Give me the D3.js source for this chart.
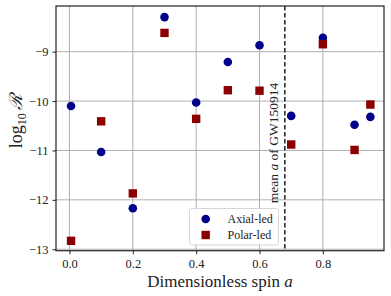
<!DOCTYPE html>
<html>
<head>
<meta charset="utf-8">
<script src="https://cdn.jsdelivr.net/npm/d3@7"></script>
<style>
  html, body { margin: 0; padding: 0; background: #fff; }
  svg { display: block; }
  text { font-family: "Liberation Serif", "DejaVu Serif", serif; }
</style>
</head>
<body>
<svg id="chart" width="391" height="296"></svg>
<script>
const spins = [0.005, 0.1, 0.2, 0.3, 0.4, 0.5, 0.6, 0.7, 0.8, 0.9, 0.95];
const axialLed = [-10.10, -11.03, -12.17, -8.30, -10.03, -9.21, -8.87, -10.30, -8.72, -10.48, -10.32];
const polarLed = [-12.83, -10.41, -11.87, -8.62, -10.36, -9.78, -9.79, -10.88, -8.85, -10.99, -10.07];
const xTicks = [0.0, 0.2, 0.4, 0.6, 0.8];
const yTicks = [-13, -12, -11, -10, -9];
const meanSpin = 0.68;
const seriesNames = ["Axial-led", "Polar-led"];

const svg = d3.select("#chart");
const pL = 56, pR = 384, pT = 6, pB = 250.7;

const x = d3.scaleLinear().domain([-0.0425, 0.993]).range([pL, pR]);
const y = d3.scaleLinear().domain([-13.03, -8.075]).range([pB, pT]);

// grid
const grid = svg.append("g");
grid.selectAll(".gx").data(xTicks).enter().append("line")
  .attr("x1", d => x(d)).attr("x2", d => x(d)).attr("y1", pT).attr("y2", pB)
  .attr("stroke", "#b0b0b0").attr("stroke-width", 1);
grid.selectAll(".gy").data(yTicks).enter().append("line")
  .attr("y1", d => y(d)).attr("y2", d => y(d)).attr("x1", pL).attr("x2", pR)
  .attr("stroke", "#b0b0b0").attr("stroke-width", 1);

// axes
const xAxis = d3.axisBottom(x).tickValues(xTicks).tickFormat(d3.format(".1f")).tickSizeInner(3.5).tickSizeOuter(0).tickPadding(5);
const yAxis = d3.axisLeft(y).tickValues(yTicks).tickFormat(d => "\u2212" + Math.abs(d)).tickSizeInner(3.5).tickSizeOuter(0).tickPadding(4);

const gx = svg.append("g").attr("transform", `translate(0,${pB})`).call(xAxis);
const gy = svg.append("g").attr("transform", `translate(${pL},0)`).call(yAxis);
[gx, gy].forEach(g => {
  g.select(".domain").remove();
  g.selectAll(".tick line").attr("stroke", "#222").attr("stroke-width", 1);
  g.selectAll(".tick text").attr("fill", "#222").style("font-size", "12.5px").style("font-family", "'Liberation Serif', serif");
});

// dashed line
svg.append("line")
  .attr("x1", x(meanSpin)).attr("x2", x(meanSpin)).attr("y1", pT).attr("y2", pB)
  .attr("stroke", "#111").attr("stroke-width", 1.4).attr("stroke-dasharray", "4.5,2.5");

const vt = svg.append("text")
  .attr("transform", `translate(${x(meanSpin) - 6.5},143) rotate(-90)`)
  .attr("text-anchor", "middle").attr("fill", "#222").style("font-size", "13.5px");
vt.append("tspan").text("mean ");
vt.append("tspan").attr("font-style", "italic").text("a");
vt.append("tspan").text(" of GW150914");

// points
const pts = svg.append("g");
pts.selectAll(".ax").data(spins).enter().append("circle")
  .attr("cx", (d) => x(d)).attr("cy", (d, i) => y(axialLed[i])).attr("r", 4.3)
  .attr("fill", "#00008b");
pts.selectAll(".po").data(spins).enter().append("rect")
  .attr("x", d => x(d) - 4.2).attr("y", (d, i) => y(polarLed[i]) - 4.2)
  .attr("width", 8.4).attr("height", 8.4).attr("fill", "#8b0000");

// spines
svg.append("rect").attr("x", pL).attr("y", pT).attr("width", pR - pL).attr("height", pB - pT)
  .attr("fill", "none").attr("stroke", "#222").attr("stroke-width", 1.2);

// legend
const lg = svg.append("g");
lg.append("rect").attr("x", 189.5).attr("y", 208.5).attr("width", 89).attr("height", 36.5)
  .attr("rx", 2.5).attr("fill", "rgba(255,255,255,0.85)").attr("stroke", "#d6d6d6").attr("stroke-width", 1);
lg.append("circle").attr("cx", 205.7).attr("cy", 219).attr("r", 4.3).attr("fill", "#00008b");
lg.append("rect").attr("x", 205.7 - 4.2).attr("y", 235 - 4.2).attr("width", 8.4).attr("height", 8.4).attr("fill", "#8b0000");
lg.append("text").attr("x", 227.5).attr("y", 223).attr("fill", "#222").style("font-size", "12px").text(seriesNames[0]);
lg.append("text").attr("x", 227.5).attr("y", 239).attr("fill", "#222").style("font-size", "12px").text(seriesNames[1]);

// axis labels
svg.append("text").attr("x", (pL + pR) / 2).attr("y", 287).attr("text-anchor", "middle")
  .attr("fill", "#222").style("font-size", "17px")
  .html('Dimensionless spin <tspan font-style="italic">a</tspan>');

const yl = svg.append("text").attr("transform", `translate(22,121) rotate(-90)`).attr("text-anchor", "middle")
  .attr("fill", "#222").style("font-size", "18px");
yl.append("tspan").text("log");
yl.append("tspan").attr("dy", 4).style("font-size", "12px").text("10");
yl.append("tspan").attr("dy", -4).text("\u2009");
yl.append("tspan").attr("font-style", "italic").style("font-family", "'DejaVu Serif', serif").text("\u211B");
</script>
</body>
</html>
